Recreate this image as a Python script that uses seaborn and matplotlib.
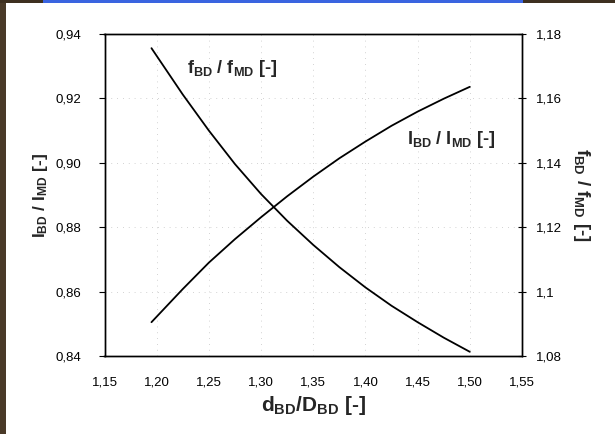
import matplotlib
matplotlib.use("Agg")
import matplotlib.pyplot as plt
import seaborn as sns
import pandas as pd
from matplotlib.patches import Rectangle

# ---- data ----
ratio_d = [1.195, 1.225, 1.25, 1.275, 1.30, 1.325, 1.35, 1.375, 1.40, 1.425, 1.45, 1.475, 1.50]
ratio_I = [0.8505, 0.8608, 0.8690, 0.8763, 0.8831, 0.8896, 0.8957, 0.9014, 0.9066, 0.9115,
           0.9159, 0.9199, 0.9236]
ratio_f = [1.1756, 1.1612, 1.1500, 1.1396, 1.1303, 1.1220, 1.1145, 1.1076, 1.1013, 1.0956,
           1.0905, 1.0857, 1.0813]

x_ticks = [1.15, 1.20, 1.25, 1.30, 1.35, 1.40, 1.45, 1.50, 1.55]
x_labels = ["1,15", "1,20", "1,25", "1,30", "1,35", "1,40", "1,45", "1,50", "1,55"]
yl_ticks = [0.84, 0.86, 0.88, 0.90, 0.92, 0.94]
yl_labels = ["0,84", "0,86", "0,88", "0,90", "0,92", "0,94"]
yr_ticks = [1.08, 1.10, 1.12, 1.14, 1.16, 1.18]
yr_labels = ["1,08", "1,1", "1,12", "1,14", "1,16", "1,18"]

df = pd.DataFrame({"d": ratio_d, "I": ratio_I, "f": ratio_f})

sns.set_style("white")
plt.rcParams["font.family"] = ["Liberation Sans", "DejaVu Sans"]
plt.rcParams["mathtext.fontset"] = "custom"
plt.rcParams["mathtext.rm"] = "Liberation Sans"
plt.rcParams["mathtext.bf"] = "Liberation Sans:bold"
plt.rcParams["mathtext.it"] = "Liberation Sans:italic"

fig = plt.figure(figsize=(6.15, 4.34), dpi=100)
fig.patch.set_facecolor("white")

# decorative frame of the scanned slide
fig.patches.append(Rectangle((0, 0), 6 / 615, 1, transform=fig.transFigure,
                             facecolor="#4a3a28", edgecolor="none", zorder=0))
fig.patches.append(Rectangle((0, 1 - 3 / 434), 1, 3 / 434, transform=fig.transFigure,
                             facecolor="#3e3020", edgecolor="none", zorder=0))
fig.patches.append(Rectangle((43 / 615, 1 - 3 / 434), (523 - 43) / 615, 3 / 434,
                             transform=fig.transFigure, facecolor="#3a64e0",
                             edgecolor="none", zorder=1))

ax = fig.add_axes([104.5 / 615, 1 - 356 / 434, (522 - 104.5) / 615, (356 - 34) / 434])
ax2 = ax.twinx()

sns.lineplot(data=df, x="d", y="I", ax=ax, color="black", linewidth=1.3)
sns.lineplot(data=df, x="d", y="f", ax=ax2, color="black", linewidth=1.3)

ax.set_xlim(1.15, 1.55)
ax.set_ylim(0.84, 0.94)
ax2.set_ylim(1.08, 1.18)

# faint dotted grid
for xv in x_ticks[1:-1]:
    ax.axvline(xv, color="#c4c4c4", lw=0.6, ls=(0, (1, 6)), zorder=0)
for yv in yl_ticks[1:-1]:
    ax.axhline(yv, color="#c4c4c4", lw=0.6, ls=(0, (1, 6)), zorder=0)

ax.set_xticks(x_ticks)
ax.set_xticklabels(x_labels)
ax.set_yticks(yl_ticks)
ax.set_yticklabels(yl_labels)
ax2.set_yticks(yr_ticks)
ax2.set_yticklabels(yr_labels)

ax.tick_params(axis="both", which="both", direction="out", length=4, width=0.8,
               labelsize=9.5, colors="black")
ax.tick_params(axis="y", pad=13)
ax.tick_params(axis="x", pad=11)
ax2.tick_params(axis="y", direction="inout", length=6, width=0.8, labelsize=9.5, pad=7,
                colors="black")

for a in (ax, ax2):
    for s in a.spines.values():
        s.set_color("black")
        s.set_linewidth(1.0)
        s.set_visible(True)

ax.set_xlabel(r"d$_{\mathbf{BD}}$/D$_{\mathbf{BD}}$ [-]", fontsize=15, fontweight="bold",
              labelpad=4)
ax.set_ylabel(r"I$_{\mathbf{BD}}$ / I$_{\mathbf{MD}}$ [-]", fontsize=12.5, fontweight="bold",
              labelpad=4)
ax2.set_ylabel(r"f$_{\mathbf{BD}}$ / f$_{\mathbf{MD}}$ [-]", fontsize=13.5, fontweight="bold",
               rotation=270, labelpad=22)

ax.text(1.229, 0.9294, r"f$_{\mathbf{BD}}$ / f$_{\mathbf{MD}}$ [-]", fontsize=13,
        fontweight="bold", va="center", ha="left")
ax.text(1.4395, 0.9071, r"I$_{\mathbf{BD}}$ / I$_{\mathbf{MD}}$ [-]", fontsize=13,
        fontweight="bold", va="center", ha="left")

fig.savefig("out.png", dpi=100)
